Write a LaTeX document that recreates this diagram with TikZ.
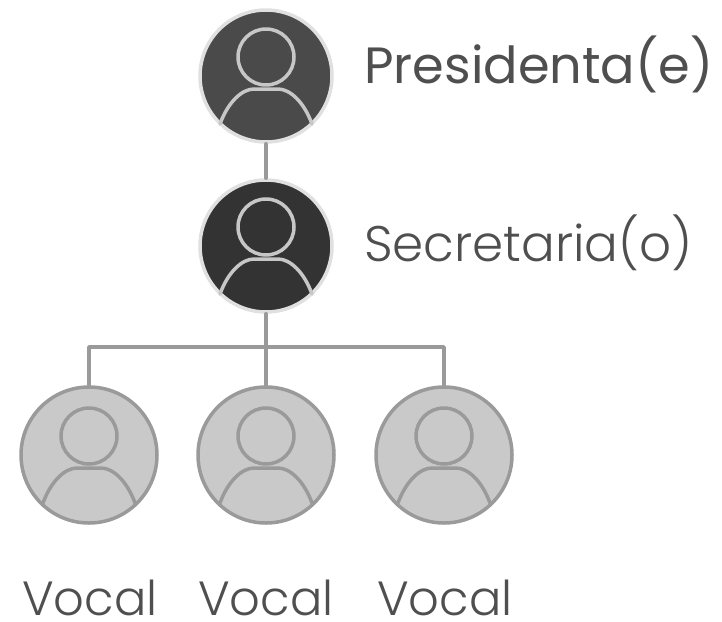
\documentclass[tikz,border=0pt]{standalone}
\usepackage{fontspec}
\setmainfont{Poppins Light}
\newfontfamily\presfont{Poppins}
\definecolor{txtgray}{HTML}{4F4F4F}
\definecolor{linegray}{HTML}{9A9A9A}
\tikzset{
  avatar/.style={circle,draw=#1,line width=3.5pt,minimum size=132pt,inner sep=0pt},
  boss/.style={avatar=black!12},
  vocalnode/.style={avatar=linegray,fill=black!21,minimum size=136pt},
  link/.style={draw=linegray,line width=3.5pt},
  lbl/.style={anchor=base west,text=txtgray,inner sep=0pt,text depth=0pt,font=\fontsize{#1}{#1}\selectfont},
}
% head and shoulders inside a member circle
\newcommand{\person}[2]{
  \begin{scope}[shift={(#1)},#2,line width=3.5pt]
    \draw (0,-19) circle (28);
    \draw (-46,48) .. controls (-38,26) and (-24,13) .. (-12,13)
      -- (12,13) .. controls (24,13) and (38,26) .. (46,48);
  \end{scope}
}
\begin{document}
\begin{tikzpicture}[x=1pt,y=-1pt,line cap=round,line join=round]
  \useasboundingbox (0,0) rectangle (722,621);
  \coordinate (bus) at (266,347);

  \node[boss,fill=black!71] (pres) at (266,76) {};
  \node[boss,fill=black!80] (secr) at (266,246) {};
  \node[vocalnode] (vocA) at (89,455) {};
  \node[vocalnode] (vocB) at (266,455) {};
  \node[vocalnode] (vocC) at (444,455) {};

  \draw[link] (pres) -- (secr);
  \draw[link] (secr) -- (vocB);
  \draw[link] (vocA) |- (bus) -| (vocC);

  \person{pres}{black!22}
  \person{secr}{black!22}
  \foreach \v in {vocA,vocB,vocC}{
    \person{\v}{linegray}
  }

  \node[lbl=51] (presl) at (364,83) {\presfont Presidenta(e)};
  \node[lbl=50] (secrl) at (364,261) {Secretaria(o)};
  \node[lbl=48] (vocAl) at (22,615) {Vocal};
  \node[lbl=48] (vocBl) at (198,615) {Vocal};
  \node[lbl=48] (vocCl) at (377,615) {Vocal};
\end{tikzpicture}
\end{document}
